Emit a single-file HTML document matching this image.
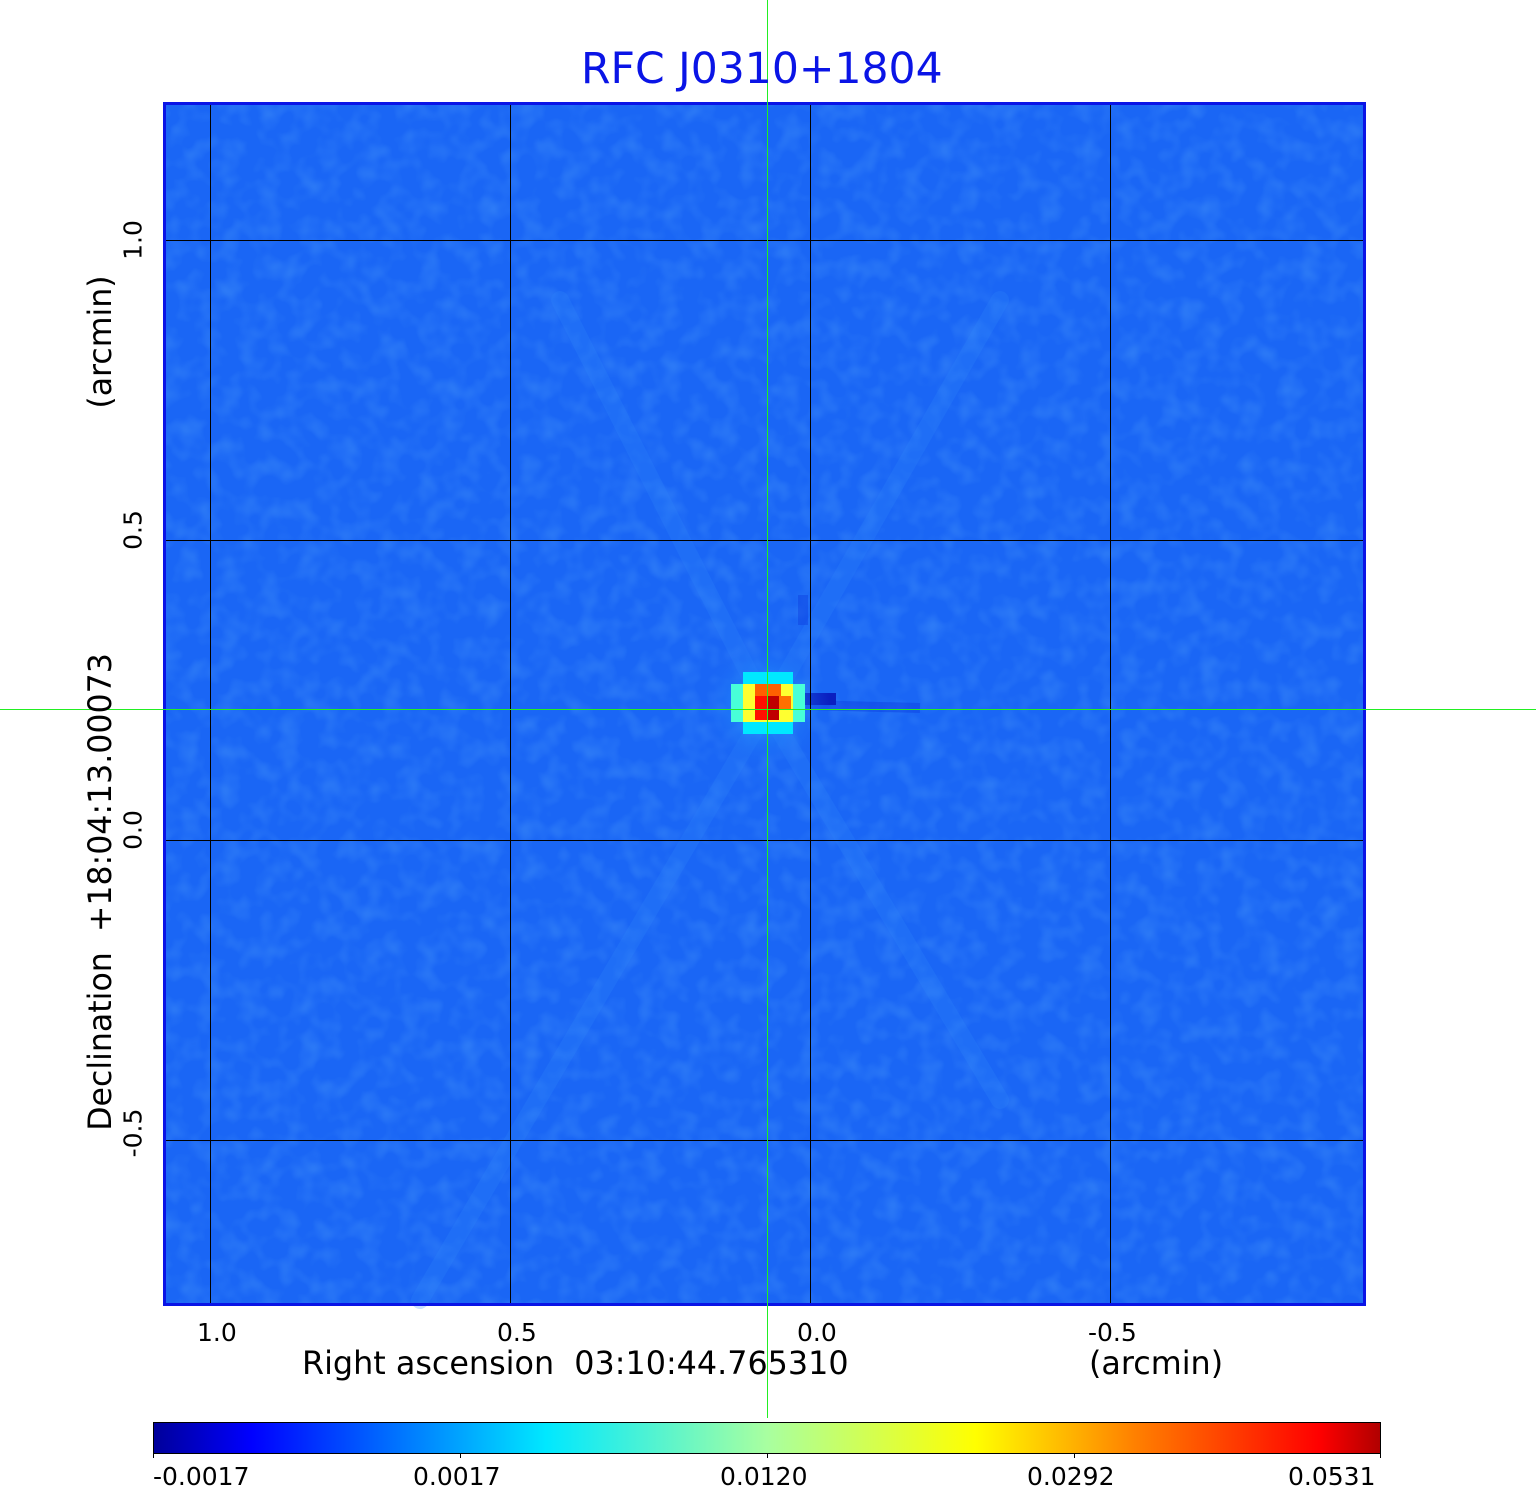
<!DOCTYPE html>
<html><head><meta charset="utf-8"><style>
body{margin:0;width:1536px;height:1511px;background:#fff;position:relative;overflow:hidden;font-family:"DejaVu Sans","Liberation Sans",sans-serif;}
.t{position:absolute;white-space:nowrap;color:#000;}
</style></head><body>
<svg width="1536" height="1511" style="position:absolute;left:0;top:0">
<defs>
<filter id="n" x="0" y="0" width="100%" height="100%">
<feTurbulence type="fractalNoise" baseFrequency="0.05" numOctaves="2" seed="3"/>
<feColorMatrix type="matrix" values="0 0 0 0 0.1  0 0 0 0 0.4  0 0 0 0 0.96  0 0 0 -1.2 0.7"/>
</filter>
<linearGradient id="cb" x1="0" x2="1">
<stop offset="0" stop-color="#00009a"/><stop offset="0.08" stop-color="#0000ff"/>
<stop offset="0.32" stop-color="#00e8ff"/><stop offset="0.5" stop-color="#a8ffa0"/>
<stop offset="0.67" stop-color="#ffff00"/><stop offset="0.8" stop-color="#ff8000"/>
<stop offset="0.95" stop-color="#ff0000"/><stop offset="1" stop-color="#b00000"/>
</linearGradient>
<radialGradient id="src" cx="0.5" cy="0.5" r="0.5">
<stop offset="0" stop-color="#2aa8ff"/><stop offset="1" stop-color="#1a66f5" stop-opacity="0"/>
</radialGradient>
</defs>
<rect x="163" y="102" width="1202" height="1203" fill="#1a66f5"/>
<rect x="163" y="102" width="1202" height="1203" fill="#1a66f5" filter="url(#n)" opacity="0.5"/>
<g stroke="#2f86fa" stroke-width="18" opacity="0.25" fill="none" stroke-linecap="round">
<line x1="767" y1="709" x2="420" y2="1300"/>
<line x1="767" y1="709" x2="1000" y2="300"/>
<line x1="767" y1="709" x2="560" y2="300"/>
<line x1="767" y1="709" x2="1000" y2="1100"/>
</g>
<g stroke="#0d3fe0" stroke-width="10" opacity="0.45">
<line x1="803" y1="625" x2="803" y2="595"/>
<line x1="806" y1="705" x2="920" y2="708"/>
</g>
<rect x="800" y="693" width="36" height="12" fill="#0a1fc0"/>
<rect x="700" y="640" width="130" height="130" fill="url(#src)"/>
<rect x="743" y="672" width="50" height="62" fill="#00e8ff"/>
<rect x="731" y="684" width="74" height="38" fill="#48ffd8"/>
<rect x="743" y="684" width="50" height="38" fill="#ffff30"/>
<rect x="755" y="684" width="26" height="12" fill="#ff6000"/>
<rect x="755" y="696" width="12" height="24" fill="#ff1000"/>
<rect x="767" y="696" width="12" height="24" fill="#c00000"/>
<rect x="779" y="696" width="12" height="14" fill="#ff7000"/>
<g stroke="#000" stroke-width="1" shape-rendering="crispEdges">
<line x1="210.5" y1="104" x2="210.5" y2="1304"/><line x1="510.5" y1="104" x2="510.5" y2="1304"/>
<line x1="810.5" y1="104" x2="810.5" y2="1304"/><line x1="1110.5" y1="104" x2="1110.5" y2="1304"/>
<line x1="164" y1="240.5" x2="1364" y2="240.5"/><line x1="164" y1="540.5" x2="1364" y2="540.5"/>
<line x1="164" y1="840.5" x2="1364" y2="840.5"/><line x1="164" y1="1140.5" x2="1364" y2="1140.5"/>
</g>
<rect x="164.5" y="103.5" width="1200" height="1201" fill="none" stroke="#0a14e6" stroke-width="3"/>
<rect x="153.5" y="1422.5" width="1227" height="31" fill="url(#cb)" stroke="#000" stroke-width="1"/>
<g stroke="#000" shape-rendering="crispEdges"><line x1="153.5" y1="1453" x2="153.5" y2="1458"/><line x1="460.5" y1="1453" x2="460.5" y2="1458"/><line x1="767.5" y1="1453" x2="767.5" y2="1458"/><line x1="1074.5" y1="1453" x2="1074.5" y2="1458"/><line x1="1380.5" y1="1453" x2="1380.5" y2="1458"/></g>
<g shape-rendering="crispEdges">
<rect x="767" y="0" width="1" height="1418" fill="#22ee22"/>
<rect x="0" y="709" width="1536" height="1" fill="#22ee22"/>
</g>
</svg>
<div class="t" style="left:581px;top:45px;font-size:42.5px;color:#0a14e6">RFC J0310+1804</div>
<div class="t" style="left:197px;top:1318px;font-size:25px">1.0</div>
<div class="t" style="left:497px;top:1318px;font-size:25px">0.5</div>
<div class="t" style="left:797px;top:1318px;font-size:25px">0.0</div>
<div class="t" style="left:1088px;top:1318px;font-size:25px">-0.5</div>
<div class="t" style="left:302px;top:1345px;font-size:31.8px">Right ascension&nbsp; 03:10:44.765310</div>
<div class="t" style="left:1089px;top:1345px;font-size:31.8px">(arcmin)</div>
<div class="t" style="left:153px;top:1462px;font-size:25px">-0.0017</div>
<div class="t" style="left:413px;top:1462px;font-size:25px">0.0017</div>
<div class="t" style="left:720px;top:1462px;font-size:25px">0.0120</div>
<div class="t" style="left:1027px;top:1462px;font-size:25px">0.0292</div>
<div class="t" style="left:1288px;top:1462px;font-size:25px">0.0531</div>
<div class="t" style="left:133px;top:240px;font-size:25px;transform:translate(-50%,-50%) rotate(-90deg)">1.0</div>
<div class="t" style="left:133px;top:530px;font-size:25px;transform:translate(-50%,-50%) rotate(-90deg)">0.5</div>
<div class="t" style="left:133px;top:830px;font-size:25px;transform:translate(-50%,-50%) rotate(-90deg)">0.0</div>
<div class="t" style="left:133px;top:1133px;font-size:25px;transform:translate(-50%,-50%) rotate(-90deg)">-0.5</div>
<div class="t" style="left:101px;top:892px;font-size:31.6px;transform:translate(-50%,-50%) rotate(-90deg)">Declination&nbsp; +18:04:13.00073</div>
<div class="t" style="left:101px;top:342px;font-size:31.6px;transform:translate(-50%,-50%) rotate(-90deg)">(arcmin)</div>
</body></html>
